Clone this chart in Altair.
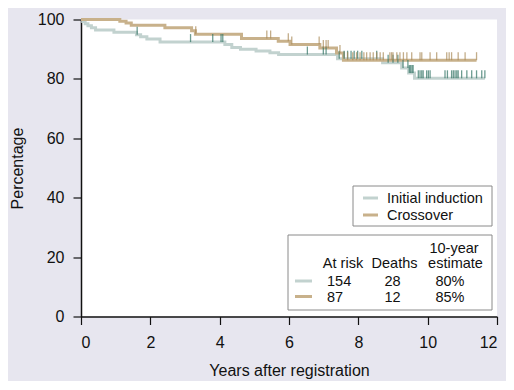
import altair as alt
import pandas as pd

FONT = "Liberation Sans"

series_names = ["Initial induction", "Crossover"]
series_colors = ["#c2d2cf", "#c8b18b"]
cens_colors = ["#2f7263", "#a98a58"]

# Kaplan-Meier step curves (years after registration, percentage)
init_times = [0, 0.05, 0.12, 0.20, 0.30, 0.42, 0.95, 1.60, 1.72, 1.90, 2.28, 4.15, 4.35, 4.60,
              5.05, 5.45, 5.70, 7.40, 8.70, 9.25, 9.45, 9.62, 11.65]
init_surv = [100, 99.3, 98.6, 97.9, 97.2, 96.5, 95.7, 94.9, 94.2, 93.4, 92.4, 91.6, 90.6, 90.0,
             89.4, 88.8, 88.2, 86.8, 85.4, 83.7, 82.0, 80.2, 80.2]
cross_times = [0, 1.12, 1.30, 1.45, 2.42, 3.19, 3.30, 4.63, 5.69, 6.03, 6.89, 7.37, 7.57, 11.41]
cross_surv = [100, 99.4, 98.8, 98.1, 97.2, 96.2, 95.0, 93.6, 92.7, 91.6, 90.4, 88.7, 86.3, 86.3]

# censoring times
init_cens = [1.62, 3.16, 3.80, 4.04, 4.09, 6.53, 6.99, 7.07, 7.45, 7.59, 7.69, 7.79, 7.88, 7.98,
             8.10, 8.53, 8.86, 9.00, 9.14, 9.29, 9.43, 9.47, 9.51, 9.55, 9.58, 9.73, 9.78, 9.83,
             9.87, 9.97, 10.02, 10.07, 10.50, 10.57, 10.69, 10.74, 10.79, 10.84, 10.88, 10.98,
             11.13, 11.27, 11.41, 11.56, 11.65]
cross_cens = [3.31, 5.36, 5.47, 5.98, 6.08, 6.87, 6.99, 7.07, 7.13, 7.47, 7.69, 7.84, 7.95, 8.05,
              8.16, 8.24, 8.34, 8.43, 8.53, 8.63, 8.72, 8.91, 8.96, 9.00, 9.11, 9.20, 9.30, 9.40,
              9.54, 9.78, 9.83, 10.07, 10.26, 10.55, 10.62, 10.69, 10.88, 11.08, 11.41]

# summary table
at_risk = [154, 87]
deaths = [28, 12]
est10 = [80, 85]

x_ticks = list(range(0, 13))
y_ticks = list(range(0, 101, 10))


def step_value(t, times, vals):
    v = vals[0]
    for tt, vv in zip(times, vals):
        if tt <= t:
            v = vv
    return v


curve_df = pd.concat([
    pd.DataFrame({"t": init_times, "s": init_surv, "g": series_names[0]}),
    pd.DataFrame({"t": cross_times, "s": cross_surv, "g": series_names[1]}),
])
init_c = pd.DataFrame({"t": init_cens, "s": [step_value(t, init_times, init_surv) for t in init_cens]})
cross_c = pd.DataFrame({"t": cross_cens, "s": [step_value(t, cross_times, cross_surv) for t in cross_cens]})

xs = alt.Scale(domain=[0, 12], nice=False, zero=False)
ys = alt.Scale(domain=[0, 100], nice=False)

x_axis = alt.Axis(values=x_ticks, title="Years after registration",
                  labelExpr="datum.value % 2 == 0 ? datum.label : ''",
                  tickSize={"condition": {"test": "datum.value % 2 == 0", "value": 8}, "value": 4},
                  labelPadding=10, titlePadding=12)
y_axis = alt.Axis(values=y_ticks, title="Percentage",
                  labelExpr="datum.value % 20 == 0 ? datum.label : ''",
                  tickSize={"condition": {"test": "datum.value % 20 == 0", "value": 8}, "value": 4},
                  labelPadding=9, titlePadding=12)


def curve(name, color):
    return alt.Chart(curve_df[curve_df["g"] == name]).mark_line(
        interpolate="step-after", color=color, strokeWidth=3
    ).encode(x=alt.X("t:Q", scale=xs, axis=x_axis), y=alt.Y("s:Q", scale=ys, axis=y_axis))


def cens(df, color):
    return alt.Chart(df).mark_tick(orient="vertical", color=color, size=8, thickness=1.3,
                                   yOffset=-4).encode(x=alt.X("t:Q", scale=xs), y=alt.Y("s:Q", scale=ys))


one = pd.DataFrame({"a": [0]})


def box(x1, x2, y1, y2):
    return alt.Chart(one).mark_rect(fill="white", stroke="#8a8a8a", strokeWidth=1).encode(
        x=alt.value(x1), x2=alt.value(x2), y=alt.value(y1), y2=alt.value(y2))


def swatch(x1, x2, y, color):
    return alt.Chart(one).mark_rule(color=color, strokeWidth=3).encode(
        x=alt.value(x1), x2=alt.value(x2), y=alt.value(y))


def label(txt, x, y, align="left"):
    return alt.Chart(one).mark_text(text=txt, align=align, baseline="alphabetic", font=FONT,
                                    fontSize=14.5, color="#111").encode(x=alt.value(x), y=alt.value(y))


layers = [
    curve(series_names[0], series_colors[0]),
    curve(series_names[1], series_colors[1]),
    cens(init_c, cens_colors[0]),
    cens(cross_c, cens_colors[1]),
    # legend
    box(272, 411, 166.5, 206.5),
    swatch(282, 297, 178.5, series_colors[0]),
    swatch(282, 297, 195.5, series_colors[1]),
    label(series_names[0], 306, 183.5),
    label(series_names[1], 306, 200.5),
    # table
    box(207, 411, 215.5, 290.5),
    label("10-year", 373, 233.5, "center"),
    label("At risk", 262, 248.5, "center"),
    label("Deaths", 313.5, 248.5, "center"),
    label("estimate", 374.5, 248.5, "center"),
]
for i, col in enumerate(series_colors):
    yy = 266.5 + i * 15.5
    layers.append(swatch(214, 231, yy - 5, col))
    layers.append(label(str(at_risk[i]), 246, yy))
    layers.append(label(str(deaths[i]), 311.5, yy, "center"))
    layers.append(label(f"{est10[i]}%", 369, yy, "center"))

chart = alt.layer(*layers).properties(
    width=416, height=297,
    autosize=alt.AutoSizeParams(type="none"),
    padding={"left": 73, "top": 11.5, "right": 9, "bottom": 64},
).configure(background="#e7e6ef").configure_view(fill="white", strokeWidth=0).configure_axis(
    grid=False, domainColor="#111", domainWidth=1.5, tickColor="#111", tickWidth=1.2,
    labelFont=FONT, labelFontSize=16, labelColor="#111",
    titleFont=FONT, titleFontSize=16, titleFontWeight="normal", titleColor="#111",
)

chart.save("out.html", embed_options={"renderer": "svg", "actions": False})
